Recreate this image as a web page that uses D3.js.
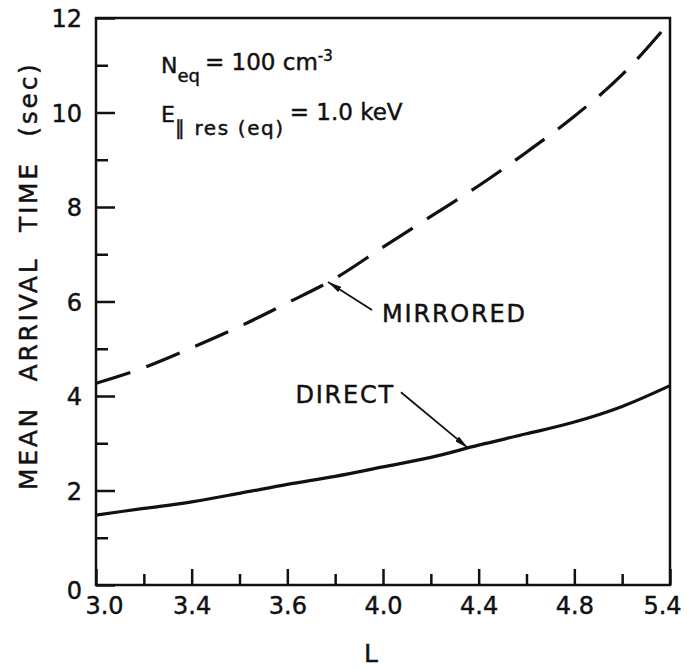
<!DOCTYPE html>
<html>
<head>
<meta charset="utf-8">
<script src="https://d3js.org/d3.v7.min.js"></script>
<style>
  html, body { margin: 0; padding: 0; background: #fff; }
  svg text { font-family: "DejaVu Sans", sans-serif; fill: #111; stroke: #111; stroke-width: 0.45; }
  .axis path.domain { display: none; }
  .axis line { stroke: #111; stroke-width: 2.5; }
</style>
</head>
<body>
<div id="chart"></div>
<script>
// L values (x) and mean arrival time (sec)
const shellL   = [3.0, 3.2, 3.4, 3.6, 3.8, 4.0, 4.2, 4.4, 4.6, 4.8, 5.0, 5.2, 5.4]
const mirrored = [4.27, 4.60, 5.02, 5.47, 5.97, 6.49, 7.15, 7.80, 8.45, 9.16, 9.92, 10.80, 11.92]
const direct   = [1.48, 1.62, 1.76, 1.94, 2.13, 2.30, 2.50, 2.70, 2.96, 3.20, 3.45, 3.78, 4.22]

// axis ticks (labels as printed on the original figure)
const xMajor = [3.0, 3.4, 3.8, 4.2, 4.6, 5.0, 5.4]
const xMinor = [3.2, 3.6, 4.0, 4.4, 4.8, 5.2]
const xTickLabels = ['3.0', '3.4', '3.6', '4.0', '4.4', '4.8', '5.4']
const yMajor = [0, 2, 4, 6, 8, 10, 12]
const yMinor = [1, 3, 5, 7, 9, 11]

const width = 687, height = 668
const margin = {left: 96, top: 18, right: 16, bottom: 83}

let svg = d3.select('#chart').append('svg')
.attr('width', width)
.attr('height', height)

let xScale = d3.scaleLinear()
.domain([3.0, 5.4])
.range([margin.left, width - margin.right - 1])

let yScale = d3.scaleLinear()
.domain([0, 12])
.range([height - margin.bottom, margin.top])

// frame
svg.append('rect')
.attr('x', xScale(3.0))
.attr('y', yScale(12))
.attr('width', xScale(5.4) - xScale(3.0))
.attr('height', yScale(0) - yScale(12))
.attr('fill', 'none')
.attr('stroke', '#111')
.attr('stroke-width', 2.5)

// y axis, ticks pointing inward
svg.append('g')
.attr('class', 'axis')
.attr('transform', `translate(${xScale(3.0)},0)`)
.call(d3.axisLeft(yScale).tickValues(yMinor).tickSize(-12).tickFormat(''))

let yaxis = svg.append('g')
.attr('class', 'axis')
.attr('transform', `translate(${xScale(3.0)},0)`)
.call(d3.axisLeft(yScale).tickValues(yMajor).tickSize(-19).tickPadding(14))

yaxis.selectAll('text')
.attr('font-size', 24)
.attr('dy', d => d === 0 ? '0.55em' : '0.36em')

// x axis
svg.append('g')
.attr('class', 'axis')
.attr('transform', `translate(0,${yScale(0)})`)
.call(d3.axisBottom(xScale).tickValues(xMinor).tickSize(-11).tickFormat(''))

let xaxis = svg.append('g')
.attr('class', 'axis')
.attr('transform', `translate(0,${yScale(0)})`)
.call(d3.axisBottom(xScale).tickValues(xMajor).tickSize(-16).tickPadding(12)
  .tickFormat((d, i) => xTickLabels[i]))

xaxis.selectAll('text')
.attr('font-size', 24)
.attr('dx', (d, i) => i === 0 ? 8 : (i === xMajor.length - 1 ? -8 : 0))

// axis titles
svg.append('text')
.attr('transform', `translate(37,490) rotate(-90)`)
.attr('text-anchor', 'start')
.attr('font-size', 25)
.attr('letter-spacing', 2.7)
.attr('word-spacing', 14)
.text('MEAN ARRIVAL TIME (sec)')

svg.append('text')
.attr('x', xScale(4.15))
.attr('y', yScale(0) + 77)
.attr('text-anchor', 'middle')
.attr('font-size', 25)
.text('L')

// curves
const line = (vals) => d3.line()
.curve(d3.curveMonotoneX)
.x((d, i) => xScale(shellL[i]))
.y(d => yScale(d))(vals)

svg.append('path')
.attr('d', line(mirrored))
.attr('fill', 'none')
.attr('stroke', '#111')
.attr('stroke-width', 3.2)
.attr('stroke-dasharray', '36,17')

svg.append('path')
.attr('d', line(direct))
.attr('fill', 'none')
.attr('stroke', '#111')
.attr('stroke-width', 3.2)

// arrow head marker
svg.append('defs').append('marker')
.attr('id', 'head')
.attr('viewBox', '0 0 14 6')
.attr('refX', 14)
.attr('refY', 3)
.attr('markerWidth', 14)
.attr('markerHeight', 6)
.attr('markerUnits', 'userSpaceOnUse')
.attr('orient', 'auto')
.append('path')
.attr('d', 'M0,0 L14,3 L0,6 Z')
.attr('fill', '#111')

const valueAt = (series, l) => {
  let f = d3.scaleLinear().domain(shellL).range(series)
  return f(l)
}

// labels with arrows
const labels = [
  {text: 'MIRRORED', series: mirrored, tip: 3.97, tailL: 4.154, tailV: 5.82, textL: 4.196, textV: 5.57},
  {text: 'DIRECT', series: direct, tip: 4.555, tailL: 4.275, tailV: 4.08, textL: 3.834, textV: 3.85}
]

labels.forEach(lb => {
  svg.append('line')
  .attr('x1', xScale(lb.tailL))
  .attr('y1', yScale(lb.tailV))
  .attr('x2', xScale(lb.tip))
  .attr('y2', yScale(valueAt(lb.series, lb.tip)))
  .attr('stroke', '#111')
  .attr('stroke-width', 1.8)
  .attr('marker-end', 'url(#head)')

  svg.append('text')
  .attr('x', xScale(lb.textL))
  .attr('y', yScale(lb.textV))
  .attr('font-size', 24)
  .attr('letter-spacing', 1.8)
  .text(lb.text)
})

// parameter notes
let note1 = svg.append('text')
.attr('x', 161)
.attr('y', 73)
.attr('font-size', 22)

note1.append('tspan').text('N')
note1.append('tspan').attr('font-size', 18).attr('dy', 9).text('eq')
note1.append('tspan').attr('dx', 5).attr('dy', -12).attr('font-size', 23).text('= 100 cm')
note1.append('tspan').attr('font-size', 15).attr('dy', -9).text('-3')

let note2 = svg.append('text')
.attr('x', 161)
.attr('y', 122)
.attr('font-size', 22)

note2.append('tspan').text('E')
note2.append('tspan').attr('font-size', 20).attr('dy', 13).attr('letter-spacing', 1.6).text('\u2225 res (eq)')
note2.append('tspan').attr('dx', 5).attr('dy', -15).attr('font-size', 23).text('= 1.0 keV')
</script>
</body>
</html>
